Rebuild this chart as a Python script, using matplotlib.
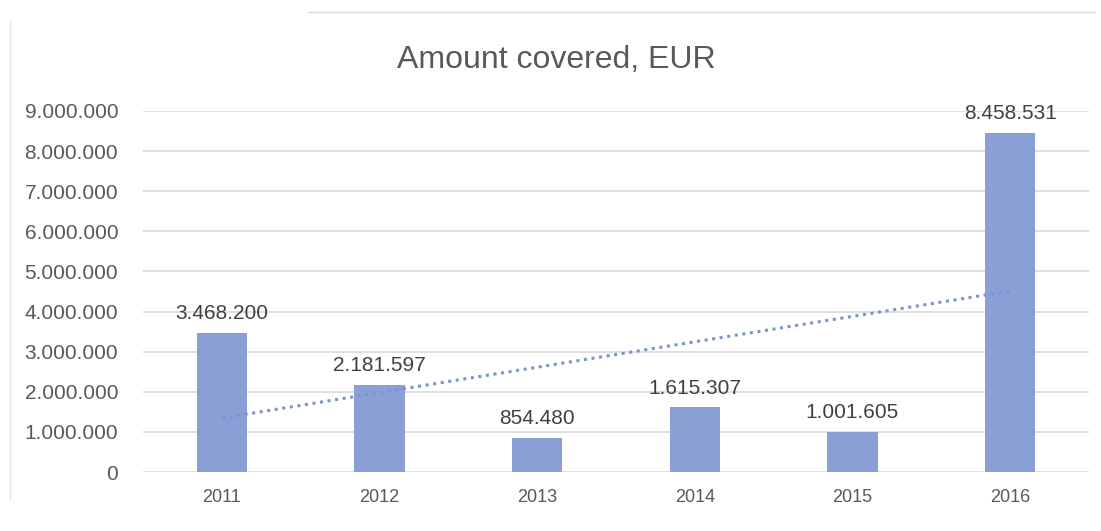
import matplotlib.pyplot as plt
import numpy as np
from matplotlib.lines import Line2D
from matplotlib.ticker import FuncFormatter

# values (EUR)
years = ["2011", "2012", "2013", "2014", "2015", "2016"]
amounts = [3468200, 2181597, 854480, 1615307, 1001605, 8458531]
y_ticks = [0, 1000000, 2000000, 3000000, 4000000, 5000000, 6000000, 7000000, 8000000, 9000000]

plt.rcParams["font.family"] = ["Liberation Sans", "DejaVu Sans"]

def eur(v):
    # european thousands separator
    return f"{int(round(v)):,}".replace(",", ".")

def main():
    fig = plt.figure(figsize=(11.01, 5.31), dpi=100)
    ax = fig.add_axes([0.130, 0.111, 0.859, 0.680])

    x = np.arange(len(years))
    ax.bar(x, amounts, width=0.32, color="#8a9fd6", zorder=3)

    # linear trendline
    k, m = np.polyfit(x, amounts, 1)
    ax.plot(x[[0, -1]], k * x[[0, -1]] + m, linestyle=(0, (1, 1.5)),
            color="#7b93d0", linewidth=2.2, zorder=4)

    for xi, v in zip(x, amounts):
        ax.annotate(eur(v), (xi, v), xytext=(0, 7), textcoords="offset points",
                    ha="center", va="bottom", fontsize=15, color="#404040")

    ax.set_xlim(-0.5, len(years) - 0.5)
    ax.set_ylim(0, 9000000)
    ax.set_yticks(y_ticks)
    ax.yaxis.set_major_formatter(FuncFormatter(lambda v, p: eur(v)))
    ax.set_xticks(x)
    ax.set_xticklabels(years)
    ax.tick_params(axis="y", length=0, pad=18, labelsize=15, labelcolor="#595959")
    ax.tick_params(axis="x", length=0, pad=12, labelsize=13, labelcolor="#595959")
    ax.grid(True, axis="y", color="#d9d9d9", linewidth=1.2, zorder=0)
    for s in ax.spines.values():
        s.set_visible(False)

    fig.text(0.505, 0.887, "Amount covered, EUR", ha="center", va="center",
             fontsize=23, color="#595959")

    # faint chart-area border pieces
    fig.add_artist(Line2D([0.28, 0.995], [0.977, 0.977], color="#d9d9d9", linewidth=1))
    fig.add_artist(Line2D([0.009, 0.009], [0.06, 0.96], color="#e3e3e3", linewidth=1))

    fig.savefig("out.png", dpi=100)

if __name__ == "__main__":
    main()
